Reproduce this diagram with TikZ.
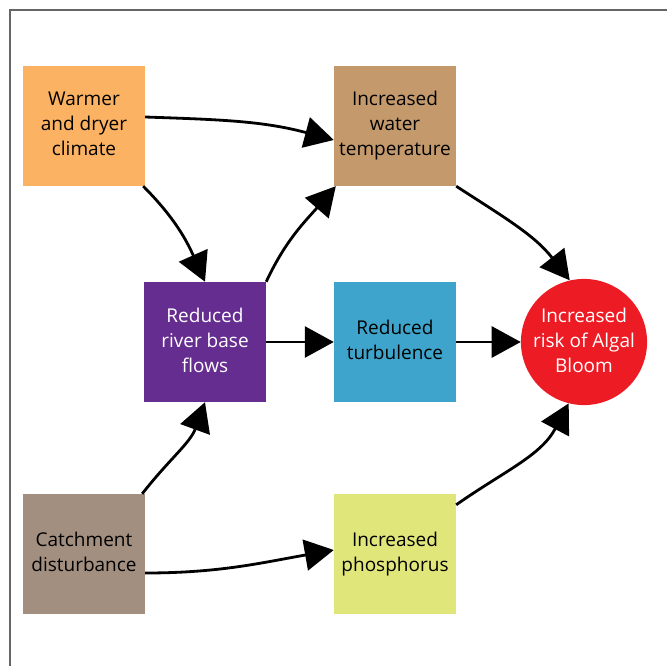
\documentclass[tikz,border=0pt]{standalone}
\usepackage{fontspec}
\setmainfont{Open Sans}
\usetikzlibrary{arrows.meta}
\definecolor{cwarm}{HTML}{FBB263}
\definecolor{ctemp}{HTML}{C49A6C}
\definecolor{criver}{HTML}{662D91}
\definecolor{cturb}{HTML}{3FA4CB}
\definecolor{cbloom}{HTML}{ED1C24}
\definecolor{ccatch}{HTML}{A38F80}
\definecolor{cphos}{HTML}{E0E679}
\definecolor{cframe}{HTML}{666666}
\newcommand{\txtlines}[1]{\raisebox{5pt}{\begin{tabular}{@{}c@{}}#1\end{tabular}}}
\begin{document}
\begin{tikzpicture}[x=1pt,y=-1pt,
  box/.style={minimum width=122pt,minimum height=120pt,inner sep=0pt,
    font=\fontsize{19}{25}\selectfont},
  circ/.style={circle,minimum size=122pt,inner sep=0pt,
    font=\fontsize{19}{25}\selectfont},
  arr/.style={line width=2.8pt,-{Triangle[length=29pt,width=31pt]}}]
\useasboundingbox (0,0) rectangle (667,666);
\draw[cframe,line width=1.5pt] (10,666) -- (10,10) -- (667,10);
\node[box,fill=cwarm] (warm) at (84,126) {\txtlines{Warmer\\and dryer\\climate}};
\node[box,fill=ctemp] (temp) at (395,126) {\txtlines{Increased\\water\\temperature}};
\node[box,fill=criver,text=white] (river) at (205,342) {\txtlines{Reduced\\river base\\flows}};
\node[box,fill=cturb] (turb) at (395,342) {\txtlines{Reduced\\turbulence}};
\node[circ,fill=cbloom,text=white] (bloom) at (584,342) {\txtlines{Increased\\risk of Algal\\Bloom}};
\node[box,fill=ccatch] (catch) at (84,554) {\txtlines{Catchment\\disturbance}};
\node[box,fill=cphos] (phos) at (395,554) {\txtlines{Increased\\phosphorus}};
\draw[arr] ([yshift=9pt]warm.east) to[out=-2,in=165] ([yshift=-14pt]temp.west);
\draw[arr] ([xshift=-2pt]warm.south east) to[out=-45,in=114] (river.north);
\draw[arr] (river.north east) to[out=65,in=-131] ([xshift=2pt]temp.south west);
\draw[arr] (river.east) -- (turb.west);
\draw[arr] (turb.east) -- (bloom.west);
\draw[arr] (temp.south east) to[out=-33,in=128] (bloom.103);
\draw[arr] ([xshift=-3pt]catch.north east) to[out=52,in=-110] (river.south);
\draw[arr] ([yshift=-19pt]catch.east) to[out=0,in=190] ([yshift=4pt]phos.west);
\draw[arr] ([yshift=-11pt]phos.north east) to[out=35,in=-118] (bloom.-104);
\end{tikzpicture}
\end{document}
